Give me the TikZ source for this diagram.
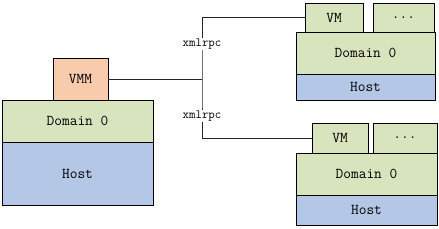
\documentclass[tikz,border=0pt]{standalone}
\definecolor{vmmc}{HTML}{F8CBAD}
\definecolor{domc}{HTML}{D7E4BD}
\definecolor{hostc}{HTML}{B4C7E7}
\begin{document}
\begin{tikzpicture}[x=1pt,y=-1pt,
  box/.style={draw=black,line width=0.8pt,inner sep=0pt,outer sep=0pt,anchor=north west,font=\ttfamily\fontsize{15}{17}\selectfont},
  conn/.style={draw=black!85,line width=0.8pt},
  lbl/.style={fill=white,inner sep=1pt,font=\ttfamily\fontsize{12.5}{14}\selectfont}]
\useasboundingbox (0,0) rectangle (439,228);
% left
\node[box,fill=vmmc,minimum width=55,minimum height=42] (vmm) at (53,58) {VMM};
\node[box,fill=domc,minimum width=151,minimum height=42] (dom) at (2,100) {Domain 0};
\node[box,fill=hostc,minimum width=151,minimum height=63] (host) at (2,142) {Host};
% right top
\node[box,fill=domc,minimum width=58,minimum height=29] (vm1) at (305,3) {VM};
\node[box,fill=domc,minimum width=61,minimum height=29] (dots1) at (373,3) {...};
\node[box,fill=domc,minimum width=139,minimum height=42] (dom1) at (296,32) {Domain 0};
\node[box,fill=hostc,minimum width=139,minimum height=26] (host1) at (296,74) {Host};
% right bottom
\node[box,fill=domc,minimum width=56,minimum height=30] (vm2) at (312,123) {VM};
\node[box,fill=domc,minimum width=64,minimum height=30] (dots2) at (373,123) {...};
\node[box,fill=domc,minimum width=141,minimum height=42] (dom2) at (296,153) {Domain 0};
\node[box,fill=hostc,minimum width=141,minimum height=30] (host2) at (296,195) {Host};
% connectors
\coordinate (bus) at (202,79);
\draw[conn] (vm1.west) -| (bus) |- (vm2.west);
\draw[conn] (vmm.east) -- (bus);
\node[lbl] (x1) at (202,44) {xmlrpc};
\node[lbl] (x2) at (202,116) {xmlrpc};
\end{tikzpicture}
\end{document}
